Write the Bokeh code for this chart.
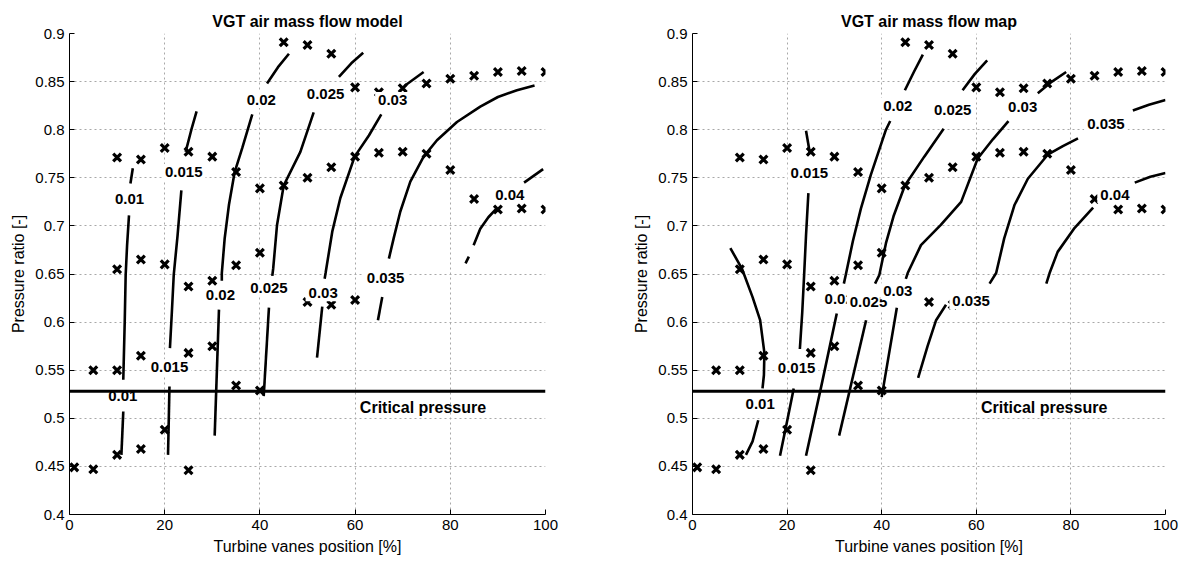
from bokeh.plotting import figure
from bokeh.models import Range1d, FixedTicker, Label, Span
from bokeh.layouts import row
from bokeh.embed import file_html
from bokeh.resources import INLINE

# ---- operating points (x markers), shared by both panels ----
vane_pos = [1, 5, 10, 15, 20, 25,
            5, 10, 15, 25, 30, 35, 40,
            10, 15, 20, 25, 30, 35, 40, 50, 55, 60,
            10, 15, 20, 25, 30, 35, 40, 45, 50, 55, 60, 65, 70, 75, 80, 85, 90, 95, 100,
            45, 50, 55, 60, 65, 70, 75, 80, 85, 90, 95, 100]
pressure_ratio = [0.449, 0.447, 0.462, 0.468, 0.488, 0.446,
                  0.550, 0.550, 0.565, 0.568, 0.575, 0.534, 0.529,
                  0.655, 0.665, 0.660, 0.637, 0.643, 0.659, 0.672, 0.621, 0.618, 0.623,
                  0.771, 0.769, 0.781, 0.777, 0.772, 0.756, 0.739, 0.742, 0.750, 0.761, 0.772,
                  0.776, 0.777, 0.775, 0.758, 0.728, 0.717, 0.718, 0.717,
                  0.891, 0.888, 0.879, 0.844, 0.839, 0.843, 0.848, 0.853, 0.856, 0.860, 0.861, 0.860]

critical_ratio = 0.528

x_ticks = [0, 20, 40, 60, 80, 100]
y_ticks = [0.4, 0.45, 0.5, 0.55, 0.6, 0.65, 0.7, 0.75, 0.8, 0.85, 0.9]
y_tick_labels = ["0.4", "0.45", "0.5", "0.55", "0.6", "0.65", "0.7", "0.75", "0.8", "0.85", "0.9"]

# ---- contour segments of the model (left) ----
model_seg_x = [
    [13.3, 12.8], [12.5, 12.1, 11.8, 11.6, 11.3], [11.3, 10.9],
    [26.7, 25.6, 24.4], [23.5, 22.7, 21.9, 21.5, 21.1], [21.0, 20.7],
    [41.5, 43.8, 46.1], [38.4, 36.3, 34.7, 33.5, 32.6, 32.0, 32.0], [31.4, 30.5],
    [56.6, 59.2, 61.7], [51.3, 48.5, 45.0, 43.6, 42.8, 42.6], [41.9, 40.8],
    [70.5, 74.4], [65.5, 62.9, 59.9, 56.9, 55.2, 53.8, 53.6], [53.1, 52.0],
    [97.7, 94.0, 90.0, 86.3, 81.4, 77.2, 74.4, 71.6, 69.5, 68.1, 67.1], [65.7, 64.8],
    [83.2, 83.9], [84.9, 86.3, 88.0, 89.7], [95.5, 99.5],
]
model_seg_y = [
    [0.760, 0.744], [0.711, 0.680, 0.649, 0.600, 0.540], [0.507, 0.462],
    [0.819, 0.800, 0.777], [0.737, 0.690, 0.649, 0.610, 0.573], [0.533, 0.462],
    [0.848, 0.865, 0.879], [0.816, 0.781, 0.756, 0.722, 0.687, 0.651, 0.643], [0.613, 0.482],
    [0.855, 0.869, 0.880], [0.818, 0.777, 0.742, 0.701, 0.656, 0.648], [0.615, 0.523],
    [0.846, 0.860], [0.816, 0.794, 0.772, 0.729, 0.694, 0.651, 0.645], [0.616, 0.563],
    [0.846, 0.841, 0.834, 0.824, 0.808, 0.789, 0.772, 0.746, 0.715, 0.687, 0.666], [0.626, 0.602],
    [0.661, 0.668], [0.680, 0.697, 0.709, 0.718], [0.745, 0.759],
]
model_lbl_x = [12.6, 11.2, 24.0, 21.0, 40.3, 31.7, 53.8, 41.9, 67.9, 53.3, 66.4, 92.5]
model_lbl_y = [0.728, 0.523, 0.756, 0.553, 0.831, 0.628, 0.837, 0.635, 0.831, 0.630, 0.646, 0.732]
model_lbl_text = ["0.01", "0.01", "0.015", "0.015", "0.02", "0.02",
                  "0.025", "0.025", "0.03", "0.03", "0.035", "0.04"]

# ---- contour segments of the map (right) ----
map_seg_x = [
    [8.0, 10.5, 12.7, 14.3, 15.2, 15.1, 14.8], [13.9, 12.7, 11.3],
    [24.0, 24.8], [24.5, 24.0, 23.6, 23.2, 22.7], [21.4, 20.0, 18.5],
    [44.9, 46.8, 48.7], [41.8, 40.9, 37.7, 35.6, 33.9, 32.4, 32.0], [30.5, 27.3, 24.0],
    [57.1, 59.7, 62.3], [53.1, 49.0, 44.9, 42.5, 40.9, 39.5, 38.6], [36.7, 31.0],
    [73.0, 76.0, 79.0], [66.8, 63.5, 60.3, 56.8, 52.5, 48.3, 45.5, 45.1], [43.2, 40.2, 40.0],
    [93.1, 96.5, 100.0], [81.5, 78.3, 75.1, 70.9, 68.1, 65.9, 64.2, 62.8], [53.6, 51.5, 49.7, 47.7],
    [93.5, 96.8, 100.0], [84.7, 80.8, 77.2, 75.5, 74.8],
]
map_seg_y = [
    [0.677, 0.655, 0.626, 0.602, 0.568, 0.545, 0.531], [0.498, 0.476, 0.462],
    [0.799, 0.776], [0.734, 0.690, 0.649, 0.610, 0.572], [0.531, 0.497, 0.461],
    [0.841, 0.860, 0.878], [0.809, 0.800, 0.753, 0.718, 0.684, 0.649, 0.640], [0.609, 0.535, 0.461],
    [0.841, 0.858, 0.872], [0.801, 0.772, 0.742, 0.710, 0.682, 0.649, 0.640], [0.602, 0.482],
    [0.838, 0.850, 0.860], [0.809, 0.790, 0.770, 0.725, 0.701, 0.680, 0.651, 0.645], [0.615, 0.528, 0.522],
    [0.820, 0.826, 0.831], [0.791, 0.783, 0.774, 0.749, 0.722, 0.687, 0.651, 0.640], [0.618, 0.602, 0.575, 0.542],
    [0.745, 0.751, 0.755], [0.719, 0.698, 0.673, 0.651, 0.640],
]
map_lbl_x = [14.3, 24.7, 22.0, 43.4, 31.0, 55.0, 37.2, 69.8, 43.4, 87.4, 58.9, 89.3]
map_lbl_y = [0.515, 0.755, 0.552, 0.825, 0.624, 0.820, 0.621, 0.824, 0.632, 0.806, 0.622, 0.732]
map_lbl_text = ["0.01", "0.015", "0.015", "0.02", "0.02", "0.025",
                "0.025", "0.03", "0.03", "0.035", "0.035", "0.04"]

FONT = "Liberation Sans"


def make_panel(title, seg_x, seg_y, lbl_x, lbl_y, lbl_text, width, border_left, border_right):
    p = figure(width=width, height=561, title=title,
               x_range=Range1d(0, 100), y_range=Range1d(0.4, 0.9),
               output_backend="svg", toolbar_location=None,
               min_border_left=border_left, min_border_right=border_right,
               min_border_top=33, min_border_bottom=47)
    p.outline_line_color = None
    p.background_fill_color = "white"
    p.border_fill_color = "white"

    p.title.text_font = FONT
    p.title.text_font_size = "16px"
    p.title.text_font_style = "bold"
    p.title.align = "center"
    p.title.text_color = "black"
    p.title.standoff = 8

    p.xaxis.ticker = FixedTicker(ticks=x_ticks)
    p.yaxis.ticker = FixedTicker(ticks=y_ticks)
    p.yaxis.major_label_overrides = {t: s for t, s in zip(y_ticks, y_tick_labels)}
    p.xaxis.axis_label = "Turbine vanes position [%]"
    p.yaxis.axis_label = "Pressure ratio [-]"
    for ax in p.axis:
        ax.axis_line_color = "black"
        ax.axis_line_width = 1
        ax.major_tick_in = 5
        ax.major_tick_out = 0
        ax.major_tick_line_color = "black"
        ax.minor_tick_line_color = None
        ax.major_label_text_font = FONT
        ax.major_label_text_font_size = "15px"
        ax.major_label_text_color = "black"
        ax.axis_label_text_font = FONT
        ax.axis_label_text_font_size = "16px"
        ax.axis_label_text_font_style = "normal"
        ax.axis_label_text_color = "black"
        ax.major_label_standoff = 5
        ax.axis_label_standoff = 5

    for g in (p.xgrid, p.ygrid):
        g.grid_line_color = "#a8a8a8"
        g.grid_line_dash = "2 3"
        g.grid_line_width = 1

    p.multi_line(xs=seg_x, ys=seg_y, line_color="black", line_width=2.6)
    p.scatter(vane_pos, pressure_ratio, marker="x", size=11, line_width=3.2, color="black")

    for x, y, t in zip(lbl_x, lbl_y, lbl_text):
        p.add_layout(Label(x=x, y=y, text=t, text_align="center", text_baseline="middle",
                           text_font=FONT, text_font_style="bold", text_font_size="15px",
                           text_color="black", background_fill_color="white", padding=3))

    p.add_layout(Span(location=critical_ratio, dimension="width",
                      line_color="black", line_width=3))
    p.add_layout(Label(x=61.0, y=0.511, text="Critical pressure", text_align="left",
                       text_baseline="middle", text_font=FONT, text_font_style="bold",
                       text_font_size="16px", text_color="black"))
    return p


left = make_panel("VGT air mass flow model", model_seg_x, model_seg_y,
                  model_lbl_x, model_lbl_y, model_lbl_text, 600, 69, 55)
right = make_panel("VGT air mass flow map", map_seg_x, map_seg_y,
                   map_lbl_x, map_lbl_y, map_lbl_text, 597, 92, 32)

layout = row(left, right)
open("out.html", "w").write(file_html(layout, INLINE))
